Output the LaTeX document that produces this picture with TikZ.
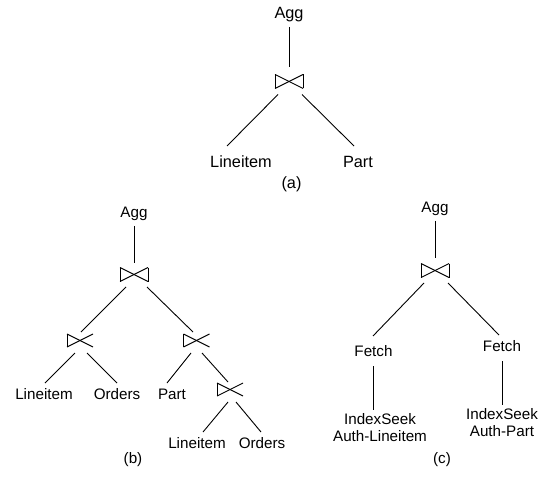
\documentclass[tikz,border=0pt]{standalone}
\usepackage{fontspec}
\setmainfont{Liberation Sans}
\usetikzlibrary{calc}

\begin{document}
\begin{tikzpicture}[
    x=1pt, y=-1pt,
    line width=0.9pt,
    lbl/.style={font=\fontsize{15.2}{17}\selectfont, inner sep=0pt, anchor=base, align=center},
    lblbig/.style={lbl, font=\fontsize{16.3}{18}\selectfont},
    opbox/.style={minimum width=#1, minimum height=14pt, inner sep=0pt, outer sep=0pt},
    bowtie/.style={opbox=28pt,
        append after command={(\tikzlastnode.north west) edge (\tikzlastnode.south east)
            (\tikzlastnode.south east) edge (\tikzlastnode.north east)
            (\tikzlastnode.north east) edge (\tikzlastnode.south west)
            (\tikzlastnode.south west) edge (\tikzlastnode.north west)}},
    semibowtie/.style={opbox=26pt, minimum height=13pt,
        append after command={(\tikzlastnode.north west) edge (\tikzlastnode.south east)
            (\tikzlastnode.north east) edge (\tikzlastnode.south west)
            (\tikzlastnode.south west) edge (\tikzlastnode.north west)}}
]
\useasboundingbox (0,0) rectangle (546,481);

% (a) single join
\node[lblbig] (agga) at (289,19) {Agg};
\node[bowtie] (ja) at (289,81.5) {};
\node[lblbig] (lia) at (241,168) {Lineitem};
\node[lblbig] (pa) at (358,168) {Part};
\node[lblbig] (capa) at (291.5,189) {(a)};

\draw ($(agga.base)+(0,8)$) -- ($(ja.north)+(0,-7)$);
\draw ($(ja.south)+(-11,6)$) -- ($(lia.base)+(-14,-22)$);
\draw ($(ja.south)+(13,6)$) -- ($(pa.base)+(-4,-22)$);

% (b) bushy plan
\node[lbl] (aggb) at (134,218) {Agg};
\node[bowtie] (jb1) at (134,274.5) {};
\node[semibowtie] (jb2) at (80,340.5) {};
\node[semibowtie] (jb3) at (196.5,340.5) {};
\node[semibowtie] (jb4) at (230,389.5) {};
\node[lbl] (lib) at (44,399) {Lineitem};
\node[lbl] (orb) at (117,399) {Orders};
\node[lbl] (ptb) at (172,399) {Part};
\node[lbl] (lic) at (197,448) {Lineitem};
\node[lbl] (orc) at (262,448) {Orders};
\node[lbl] (capb) at (133,463) {(b)};

\draw ($(aggb.base)+(0,8)$) -- ($(jb1.north)+(0,-5)$);
\draw ($(jb1.south)+(-8,5.5)$) -- ($(jb2.north)+(1,-2)$);
\draw ($(jb1.south)+(13,5.5)$) -- ($(jb3.north)+(-3.5,-2)$);
\draw ($(jb2.south)+(-5,6)$) -- ($(lib.base)+(1,-16)$);
\draw ($(jb2.south)+(7,6)$) -- ($(orb.base)+(0,-16)$);
\draw ($(jb3.south)+(-5.5,6)$) -- ($(ptb.base)+(-5,-16)$);
\draw ($(jb3.south)+(5.5,6)$) -- ($(jb4.north)+(-2,-1)$);
\draw ($(jb4.south)+(-2,6)$) -- ($(lic.base)+(6,-16)$);
\draw ($(jb4.south)+(6,6)$) -- ($(orc.base)+(-1,-16)$);

% (c) index plan
\node[lbl] (aggc) at (435,213) {Agg};
\node[bowtie] (jc) at (435,270.5) {};
\node[lbl] (fl) at (373.5,356) {Fetch};
\node[lbl] (fr) at (502,351) {Fetch};
\node[lbl] (isl) at (380,441) {IndexSeek\\Auth-Lineitem};
\node[lbl] (isr) at (502,436) {IndexSeek\\Auth-Part};
\node[lbl] (capc) at (442,463) {(c)};

\draw ($(aggc.base)+(0,8)$) -- ($(jc.north)+(0,-6)$);
\draw ($(jc.south)+(-11,5.5)$) -- ($(fl.base)+(-0.5,-20)$);
\draw ($(jc.south)+(13,5.5)$) -- ($(fr.base)+(-3,-16)$);
\draw ($(fl.base)+(-0.5,10)$) -- ($(isl.base)+(-7,-31)$);
\draw ($(fr.base)+(0,10)$) -- ($(isr.base)+(0,-31)$);

\end{tikzpicture}
\end{document}
